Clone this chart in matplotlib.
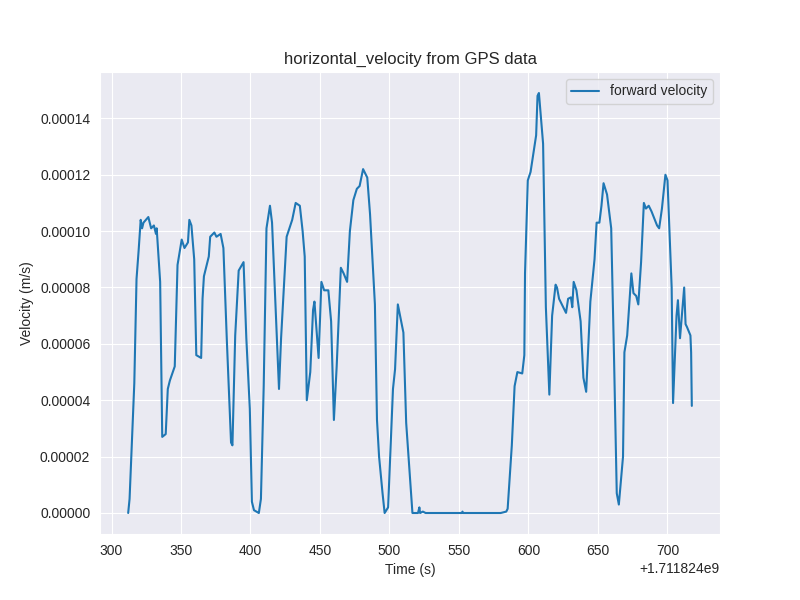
import matplotlib
matplotlib.use("Agg")
import matplotlib.pyplot as plt
import seaborn as sns
import numpy as np

sns.set_style("darkgrid")
plt.rcParams['font.family'] = ['Liberation Sans', 'DejaVu Sans']

t0 = 1711824000
t_rel = [312, 313, 316.4, 318, 319.5, 321, 322, 323, 326.5, 328.5, 330.5, 332, 332.5, 335, 336.5,
         339, 340.5, 342, 345.5, 347.5, 350.5, 352.5, 355, 356, 357.5, 359.5, 361, 364.5, 365.5,
         366.5, 370, 371, 374, 375.5, 378.5, 380.5, 383, 386, 387, 389, 391.5, 395, 397, 399.5,
         401, 402.5, 406, 407.5, 409.5, 411.5, 414, 415.5, 420.5, 422, 426, 430, 432.5, 435.5,
         437.5, 439, 440.5, 443, 445, 446, 449, 451, 453, 456, 458, 460, 462, 465, 467, 469.5,
         471.5, 474, 476.5, 478.5, 481, 484, 486, 489.5, 491, 492.5, 495, 496.5, 499, 502.5,
         504, 506, 510, 512, 516.5, 520.5, 521.5, 522, 524, 526, 540, 552, 552.5, 553, 563, 580,
         584, 585, 588, 590, 592, 595.5, 597, 597.5, 599.5, 601.5, 605.5, 606.5, 607.5, 610.5,
         612.5, 615, 617, 619.5, 620.5, 622, 627, 628.5, 630.5, 631.5, 632.5, 634.5, 637.5,
         639.5, 641.5, 644.5, 647.5, 649, 651, 652.5, 654, 656.5, 659.5, 661.5, 663.5, 665,
         668, 669, 671, 674, 675.5, 677.5, 679, 681, 683, 684.5, 686.5, 688.5, 692.5, 694,
         696, 698.5, 700, 703, 704, 706.5, 707.5, 709, 712, 713, 714, 716.5, 717, 717.5]
vel_e6 = [0, 5, 46, 83, 93, 104, 101, 103, 105, 101, 102, 99, 101, 82, 27,
          28, 44, 47, 52, 88, 97, 94, 96, 104, 102, 90, 56, 55, 76,
          84, 91, 98, 99.5, 98, 99, 94, 61, 25, 24, 63, 86, 89, 62, 37,
          4, 1, 0, 5, 45, 101, 109, 103, 44, 62, 98, 104, 110, 109,
          100, 91, 40, 50, 72, 75, 55, 82, 79, 79, 68, 33, 52, 87, 85, 82,
          100, 111, 115, 116, 122, 119, 106, 74, 33, 20, 7, 0, 2,
          44, 51, 74, 64, 32, 0, 0, 2, 0, 0.5, 0, 0, 0, 0.5, 0, 0, 0,
          0.5, 1.5, 24, 45, 50, 49.5, 56, 85, 118, 121, 134, 148, 149, 131,
          73, 42, 70, 81, 80, 76, 71, 76, 76.5, 73, 82, 79, 68,
          48, 43, 75, 90, 103, 103, 109, 117, 113, 101, 56, 7, 3,
          20, 57, 63, 85, 78, 77, 74, 89, 110, 108, 109, 107, 102, 101,
          108, 120, 118, 80, 39, 70, 75.5, 62, 80, 67, 66, 63, 57, 38]

time = np.array(t_rel, dtype=float) + t0
velocity = np.array(vel_e6) * 1e-6

fig, ax = plt.subplots(figsize=(8, 6), dpi=100)
ax.plot(time, velocity, color="#1f77b4", linewidth=1.5, label="forward velocity")
ax.set_title("horizontal_velocity from GPS data")
ax.set_xlabel("Time (s)")
ax.set_ylabel("Velocity (m/s)")
ax.legend(loc="upper right")
fig.savefig("out.png", dpi=100)
